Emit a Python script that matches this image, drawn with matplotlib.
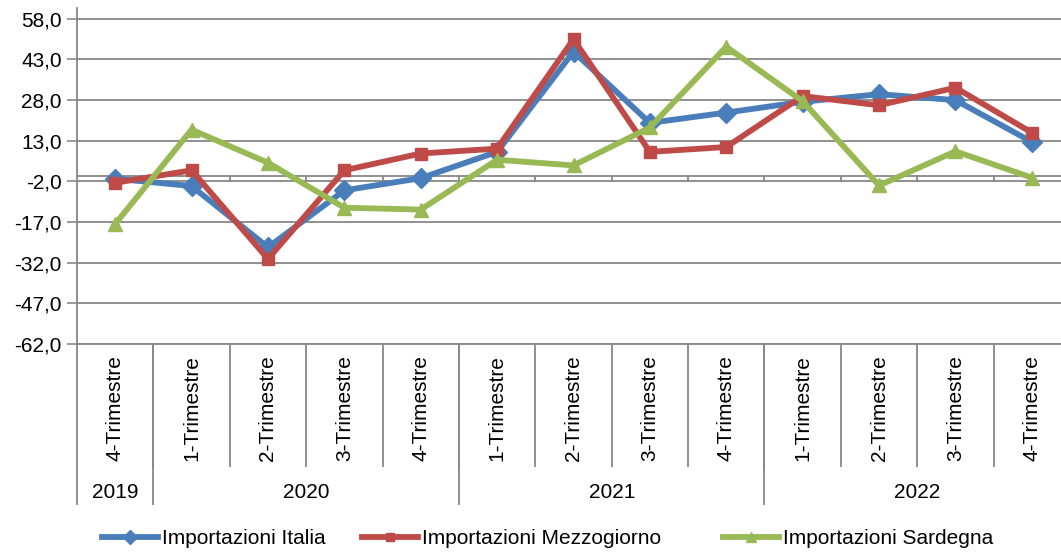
import numpy as np
import matplotlib
matplotlib.use('Agg')
import matplotlib.pyplot as plt
import matplotlib.transforms as mtransforms

plt.rcParams['font.family'] = ['Liberation Sans', 'DejaVu Sans']

quarters = ['4-Trimestre', '1-Trimestre', '2-Trimestre', '3-Trimestre', '4-Trimestre',
            '1-Trimestre', '2-Trimestre', '3-Trimestre', '4-Trimestre',
            '1-Trimestre', '2-Trimestre', '3-Trimestre', '4-Trimestre']
years = ['2019', '2020', '2021', '2022']
year_span = [1, 4, 4, 4]  # number of quarters in each year group

italia = [-1.0, -3.7, -26.3, -5.3, -0.8, 8.9, 45.9, 19.6, 23.4, 27.4, 30.2, 28.0, 12.6]
mezzogiorno = [-2.5, 2.1, -30.6, 2.1, 8.3, 10.1, 50.5, 8.9, 10.7, 29.5, 26.1, 32.6, 16.0]
sardegna = [-17.7, 17.1, 4.9, -11.7, -12.4, 6.0, 3.9, 17.9, 47.7, 27.6, -3.5, 9.1, -0.6]

series = [
    ('Importazioni Italia', italia, '#4a7ebb', 'D', 10),
    ('Importazioni Mezzogiorno', mezzogiorno, '#be4b48', 's', 8.5),
    ('Importazioni Sardegna', sardegna, '#98b954', '^', 10.5),
]

W, H = 1061, 552
fig = plt.figure(figsize=(W / 100, H / 100), dpi=100)
# plot area in pixels: left 77, right ~1070 (cut off by the picture), top 8, bottom 344
ax = fig.add_axes([77 / W, (H - 344) / H, (1070 - 77) / W, (344 - 8) / H])

grid_col = '#878787'
fs = 15

x = np.arange(len(quarters)) + 0.5
handles = []
for name, vals, col, mk, ms in series:
    h, = ax.plot(x, vals, color=col, lw=4.2, marker=mk, ms=ms,
                 markerfacecolor=col, markeredgecolor=col, label=name,
                 solid_joinstyle='miter', zorder=3)
    handles.append(h)

ax.set_xlim(0, len(quarters))
ax.set_ylim(-62, 62)
yt = np.arange(-62, 59, 15)
ax.set_yticks(yt)
ax.set_yticklabels([f'{v:.1f}'.replace('.', ',') for v in yt], fontsize=fs)
ax.tick_params(axis='y', length=7, width=1.2, color=grid_col, pad=4)
ax.set_xticks([])
ax.yaxis.grid(True, color=grid_col, lw=1.3)
ax.set_axisbelow(True)

for s in ['top', 'right']:
    ax.spines[s].set_visible(False)
ax.spines['left'].set_color(grid_col)
ax.spines['left'].set_linewidth(1.3)
ax.spines['bottom'].set_color(grid_col)
ax.spines['bottom'].set_linewidth(1.3)

# horizontal category axis at zero with small downward ticks
ax.axhline(0, color=grid_col, lw=1.3, zorder=2)
bounds = np.arange(1, len(quarters))
ax.vlines(bounds, -2.2, 0, color=grid_col, lw=1.3, zorder=2)

# multi-level category labels below the plot
trans = mtransforms.blended_transform_factory(ax.transData, ax.transAxes)
py = lambda p: (344 - p) / 336  # pixel row -> axes fraction

for xi, lab in zip(x, quarters):
    ax.text(xi, py(355), lab, rotation=90, ha='center', va='top',
            fontsize=fs, transform=trans)

ax.vlines(bounds, py(467), 0, color=grid_col, lw=1.3, transform=trans, clip_on=False)

edges = np.concatenate([[0], np.cumsum(year_span)])
ax.vlines(edges[:-1], py(505), 0, color=grid_col, lw=1.3, transform=trans, clip_on=False)
for i, yr in enumerate(years):
    ax.text((edges[i] + edges[i + 1]) / 2, py(493), yr, ha='center', va='center',
            fontsize=fs, transform=trans)

# legend entries placed one by one like the original
leg_x = [102, 362, 723]
for h, lx in zip(handles, leg_x):
    fig.legend(handles=[h], loc='center left', bbox_to_anchor=(lx / W, (H - 539) / H),
               frameon=False, borderpad=0, borderaxespad=0, handlelength=2.7,
               handletextpad=0.2, fontsize=fs, markerscale=0.7)

fig.savefig('out.png', dpi=100)
